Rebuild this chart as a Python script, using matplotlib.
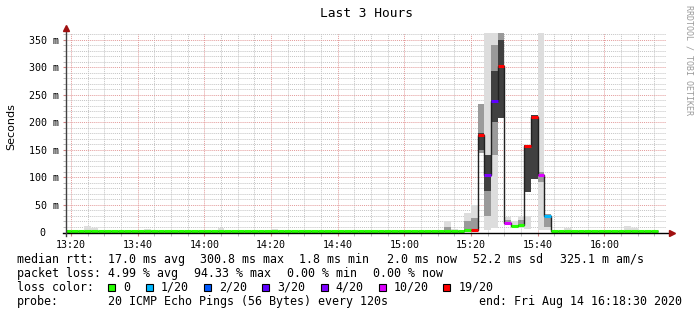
import numpy as np
import matplotlib
matplotlib.use("Agg")
import matplotlib.pyplot as plt
from matplotlib.patches import Rectangle
from matplotlib.ticker import MultipleLocator, FixedLocator
from matplotlib.transforms import ScaledTranslation

W, H = 697, 315
MONO = "DejaVu Sans Mono"

# one slot per smokeping step (120 s), minutes after 13:00 -> 13:18 .. 16:14
slot_start = np.arange(18, 196, 2)

# median rtt per slot (ms)
median = [
    2.0, 2.0, 2.0, 2.0, 2.0, 2.0, 2.0, 2.0, 2.0, 2.0,
    2.0, 2.0, 2.0, 2.0, 2.0, 2.0, 2.0, 2.0, 2.0, 2.0,
    2.0, 2.0, 2.0, 2.0, 2.0, 2.0, 2.0, 2.0, 2.0, 2.0,
    2.0, 2.0, 2.0, 2.0, 2.0, 2.0, 2.0, 2.0, 2.0, 2.0,
    2.0, 2.0, 2.0, 2.0, 2.0, 2.0, 2.0, 2.0, 2.0, 2.0,
    2.0, 2.0, 2.0, 2.0, 2.0, 2.0, 2.0, 2.0, 2.0, 2.0,
    4.5, 5.0, 177, 104, 238, 302, 17.5, 12, 14.5, 156,
    210, 104, 30, 2.0, 2.0, 2.0, 2.0, 2.0, 2.0, 2.0,
    2.0, 2.0, 2.0, 2.0, 2.0, 2.0, 2.0, 2.0, 2.0,
]

# loss bucket per slot (index into loss_labels)
loss = [
    0, 0, 0, 0, 0, 0, 0, 0, 0, 0,
    0, 0, 0, 0, 0, 0, 0, 0, 0, 0,
    0, 0, 0, 0, 0, 0, 0, 0, 0, 0,
    0, 0, 0, 0, 0, 0, 0, 0, 0, 0,
    0, 0, 0, 0, 0, 0, 0, 0, 0, 0,
    0, 0, 0, 0, 0, 0, 0, 0, 0, 0,
    0, 6, 6, 4, 3, 6, 5, 0, 0, 6,
    6, 5, 1, 0, 0, 0, 0, 0, 0, 0,
    0, 0, 0, 0, 0, 0, 0, 0, 0,
]

# smoke: outer (light), middle and core (dark) ping ranges (ms)
light_lo = [
    1.5, 1.5, 1.5, 1.5, 1.5, 1.5, 1.5, 1.5, 1.5, 1.5,
    1.5, 1.5, 1.5, 1.5, 1.5, 1.5, 1.5, 1.5, 1.5, 1.5,
    1.5, 1.5, 1.5, 1.5, 1.5, 1.5, 1.5, 1.5, 1.5, 1.5,
    1.5, 1.5, 1.5, 1.5, 1.5, 1.5, 1.5, 1.5, 1.5, 1.5,
    1.5, 1.5, 1.5, 1.5, 1.5, 1.5, 1.5, 1.5, 1.5, 1.5,
    1.5, 1.5, 1.5, 1.5, 1.5, 1.5, 1.5, 1.5, 1.5, 1.5,
    2, 2, 145, 5, 7.5, 207, 13.6, 10.5, 7.5, 7,
    97, 5, 5, 1.5, 1.5, 1.5, 1.5, 1.5, 1.5, 1.5,
    1.5, 1.5, 1.5, 1.5, 1.5, 1.5, 1.5, 1.5, 1.5,
]
light_hi = [
    2.5, 2.5, 2.5, 11, 8, 2.5, 2.5, 2.5, 2.5, 2.5,
    2.5, 2.5, 7, 4, 2.5, 2.5, 2.5, 2.5, 2.5, 2.5,
    2.5, 2.5, 2.5, 9, 2.5, 2.5, 2.5, 2.5, 2.5, 2.5,
    2.5, 7, 2.5, 2.5, 2.5, 2.5, 2.5, 2.5, 2.5, 2.5,
    2.5, 2.5, 2.5, 2.5, 2.5, 5, 2.5, 2.5, 2.5, 2.5,
    2.5, 2.5, 2.5, 2.5, 2.5, 2.5, 2.5, 20, 7, 2.5,
    36, 50, 233, 365, 365, 365, 28.7, 21, 28.7, 30,
    213, 365, 33, 2.5, 2.5, 8, 5, 2.5, 2.5, 2.5,
    2.5, 2.5, 2.5, 2.5, 11, 8, 2.5, 2.5, 2.5,
]
mid_lo = [0] * 57 + [3, 0, 0, 3, 5, 145, 30, 140, 207, 15, 0, 10, 74,
                     0, 92, 10] + [0] * 16
mid_hi = [0] * 57 + [10, 0, 0, 20, 26, 233, 141, 340, 365, 22, 0, 22, 159,
                     0, 110, 33] + [0] * 16
dark_lo = [0] * 62 + [150, 75, 200, 207, 0, 0, 0, 74, 97] + [0] * 18
dark_hi = [0] * 62 + [180, 141, 292, 350, 0, 0, 0, 159, 213] + [0] * 18

loss_labels = ["0", "1/20", "2/20", "3/20", "4/20", "10/20", "19/20"]
loss_colors = ["#26ff00", "#00b8ff", "#0059ff", "#5e00ff", "#7e00ff", "#dd00ff", "#ff0000"]

x_ticks = [20, 40, 60, 80, 100, 120, 140, 160, 180]
x_labels = ["13:20", "13:40", "14:00", "14:20", "14:40", "15:00", "15:20", "15:40", "16:00"]
y_ticks = [0, 50, 100, 150, 200, 250, 300, 350]
y_labels = ["0", "50 m", "100 m", "150 m", "200 m", "250 m", "300 m", "350 m"]


def fx(x):
    return x / W


def fy(y):
    return 1 - y / H


def main():
    fig = plt.figure(figsize=(W / 100, H / 100), dpi=100)
    fig.patch.set_facecolor("white")
    ax = fig.add_axes([fx(66), fy(232.5), 600 / W, 200 / H])
    ax.set_xlim(18.5, 198.5)
    ax.set_ylim(0, 362.7)
    ax.set_axisbelow(True)

    lo, hi = np.array(light_lo), np.array(light_hi)
    ax.bar(slot_start, hi - lo, bottom=lo, width=2, align="edge", color="#dddddd", lw=0)
    lo, hi = np.array(mid_lo), np.array(mid_hi)
    ax.bar(slot_start, hi - lo, bottom=lo, width=2, align="edge", color="#9a9a9a", lw=0)
    lo, hi = np.array(dark_lo), np.array(dark_hi)
    ax.bar(slot_start, hi - lo, bottom=lo, width=2, align="edge", color="#404040", lw=0)

    edges = np.append(slot_start, slot_start[-1] + 2)
    ax.stairs(median, edges, baseline=None, color="#202020", lw=1.0)
    ax.hlines(median, slot_start, slot_start + 2,
              colors=[loss_colors[k] for k in loss], lw=2.2)

    # grid
    ax.xaxis.set_major_locator(FixedLocator(x_ticks))
    ax.xaxis.set_minor_locator(MultipleLocator(5))
    ax.yaxis.set_major_locator(FixedLocator(y_ticks))
    ax.yaxis.set_minor_locator(MultipleLocator(10))
    ax.grid(which="minor", color="#c4c4c4", ls=(0, (1, 1)), lw=0.7)
    ax.grid(which="major", color="#e39a9a", ls=(0, (1, 1)), lw=0.7)
    ax.set_xticklabels(x_labels, family=MONO, fontsize=7.2)
    ax.set_yticklabels(y_labels, family=MONO, fontsize=7.2)
    ax.tick_params(which="major", direction="out", length=2, color="#d08080", pad=3.2)
    ax.tick_params(which="minor", direction="out", length=2, color="#b0b0b0")
    zero = ax.get_yticklabels()[0]
    zero.set_transform(zero.get_transform() + ScaledTranslation(-13 / 100, 0, fig.dpi_scale_trans))
    for s in ax.spines.values():
        s.set_visible(False)

    # axes with arrows
    ax.plot([-3 / 600, 1 + 4 / 600], [0, 0], color="black", lw=1,
            transform=ax.transAxes, clip_on=False)
    ax.plot([0, 0], [-3 / 200, 1 + 3 / 200], color="#404040", lw=1,
            transform=ax.transAxes, clip_on=False)
    ax.plot([1 + 6 / 600], [0], marker=">", ms=4.5, color="#a01010",
            transform=ax.transAxes, clip_on=False)
    ax.plot([0], [1 + 5 / 200], marker="^", ms=4.5, color="#a01010",
            transform=ax.transAxes, clip_on=False)

    fig.text(fx(366), fy(13.5), "Last 3 Hours", ha="center", va="center",
             family=MONO, fontsize=9.3)
    fig.text(fx(11), fy(127), "Seconds", rotation=90, ha="center", va="center",
             family="DejaVu Sans", fontsize=8)
    fig.text(fx(689), fy(60), "RRDTOOL / TOBI OETIKER", rotation=270, ha="center",
             va="center", family=MONO, fontsize=6, color="#9a9a9a")

    # legend block
    rows = [
        (259.3, [(16.7, "median rtt:"), (107.8, "17.0 ms avg"), (200.4, "300.8 ms max"),
                 (299.3, "1.8 ms min"), (387.5, "2.0 ms now"), (473, "52.2 ms sd"),
                 (560, "325.1 m am/s")]),
        (273.3, [(16.7, "packet loss:"), (107.8, "4.99 % avg"), (193.8, "94.33 % max"),
                 (287.3, "0.00 % min"), (373.3, "0.00 % now")]),
        (287.3, [(16.7, "loss color:")]),
        (301.3, [(16.7, "probe:"), (107.8, "20 ICMP Echo Pings (56 Bytes) every 120s"),
                 (479.3, "end: Fri Aug 14 16:18:30 2020")]),
    ]
    for y, items in rows:
        for x, s in items:
            fig.text(fx(x), fy(y), s, ha="left", va="center", family=MONO, fontsize=8.4)

    sq_x = [108.2, 146.1, 204, 262, 320.7, 378.6, 443.2]
    for x, c, lab in zip(sq_x, loss_colors, loss_labels):
        fig.add_artist(Rectangle((fx(x), fy(287.3 + 3.5)), 7 / W, 7 / H,
                                 transform=fig.transFigure, facecolor=c,
                                 edgecolor="black", lw=0.8))
        fig.text(fx(x + 15), fy(287.3), lab, ha="left", va="center",
                 family=MONO, fontsize=8.4)

    fig.savefig("out.png", dpi=100)


if __name__ == "__main__":
    main()
